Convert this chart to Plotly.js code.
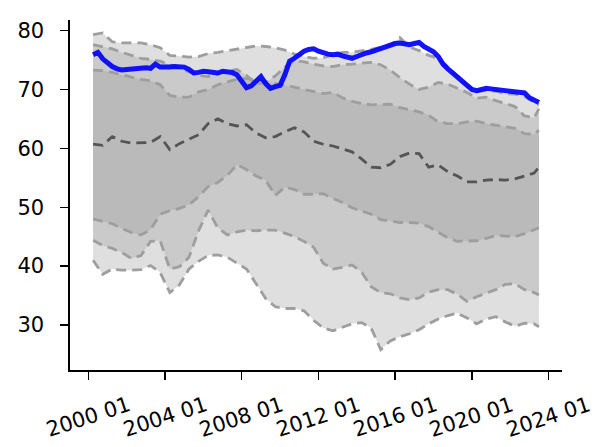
<!DOCTYPE html>
<html><head><meta charset="utf-8">
<script src="https://cdn.plot.ly/plotly-3.0.1.min.js"></script>
<style>html,body{margin:0;padding:0;background:#fff}#chart{width:596px;height:447px}</style>
</head><body><div id="chart"></div>
<script>
function monthSeries(y, m, step, n) {
  const out = [];
  for (let i = 0; i < n; i++) {
    out.push(y + '-' + String(m).padStart(2, '0') + '-01');
    m += step; while (m > 12) { m -= 12; y++; }
  }
  return out;
}
const bandDates = monthSeries(2000, 4, 6, 47).concat(['2023-07-01']);
const lineDates = monthSeries(2000, 4, 3, 94);

const p5  = [41.0,38.6,39.5,39.3,39.3,39.4,40.1,38.9,35.5,36.8,39.5,40.8,41.8,41.9,41.5,40.5,39.5,37.0,34.5,33.1,32.8,32.8,32.4,30.8,29.5,29.0,29.6,30.2,30.4,29.5,25.8,27.3,28.0,28.5,29.2,30.2,31.0,31.6,32.0,31.2,30.2,31.0,31.4,30.5,29.8,30.3,30.2,29.7];
const p10 = [44.4,43.5,43.0,42.3,41.3,41.8,44.2,44.3,39.5,39.9,41.5,46.0,49.5,46.5,45.3,45.8,46.1,46.0,46.1,46.1,45.6,45.0,44.2,43.2,40.5,39.5,39.8,40.2,39.0,36.5,35.5,35.3,34.6,34.3,34.6,35.6,36.0,36.0,35.2,34.0,34.8,35.4,36.0,36.9,37.0,36.0,35.5,35.1];
const p25 = [48.0,47.6,47.2,46.4,45.7,45.3,46.2,48.8,49.4,49.8,50.4,51.8,53.5,54.2,55.4,57.2,56.4,55.3,54.6,52.0,53.4,53.0,52.2,52.2,52.3,51.5,50.8,49.9,49.4,48.8,47.9,47.6,47.4,47.4,47.3,46.7,45.8,44.8,44.2,44.2,44.3,44.7,45.2,45.1,45.0,45.5,46.1,46.5];
const p50 = [60.7,60.5,62.0,61.2,60.9,60.9,61.0,62.0,59.8,60.8,61.5,62.3,64.2,65.0,64.2,63.8,64.0,62.6,61.8,62.0,62.8,63.5,62.8,61.2,60.7,60.4,59.9,59.4,58.2,56.8,56.7,57.3,58.6,59.2,59.1,56.8,57.2,56.0,55.3,54.3,54.3,54.6,54.7,54.6,54.8,55.3,55.8,56.8];
const p75 = [73.3,73.2,72.9,72.5,72.0,71.7,71.5,70.8,69.0,68.7,68.7,69.6,70.0,70.8,71.3,71.7,71.9,71.6,71.3,71.1,70.7,70.4,70.0,69.6,69.3,69.5,68.6,68.0,67.6,67.4,67.4,67.5,66.9,66.6,66.2,65.6,64.5,64.2,64.2,64.5,64.6,64.2,63.9,63.7,63.4,62.5,62.4,63.1];
const p90 = [77.6,77.3,76.9,76.3,75.8,75.3,75.1,74.8,74.2,73.6,73.0,72.4,72.2,72.7,73.1,73.4,72.4,70.9,71.2,72.3,73.8,74.9,74.7,74.3,74.0,73.9,74.2,74.3,74.5,74.6,74.2,73.3,72.0,70.9,70.0,70.4,71.2,70.9,70.2,69.5,68.5,68.7,68.1,67.6,67.1,65.5,65.2,66.7];
const p95 = [79.3,79.6,78.1,77.9,77.9,77.9,77.6,77.1,75.8,75.6,75.5,75.6,76.1,76.3,76.6,76.9,77.2,77.4,77.3,77.1,76.7,76.0,75.6,75.3,75.4,75.8,76.3,76.3,76.5,76.8,77.2,77.5,78.8,77.2,76.6,75.8,75.3,73.8,72.3,70.8,69.6,69.8,69.7,69.3,69.2,68.8,67.8,67.4];
const actual = [75.9,76.3,75.2,74.5, 73.9,73.5,73.3,73.4, 73.5,73.5,73.6,73.7, 73.6,74.3,73.8,73.7, 73.8,73.9,73.8,73.8, 73.4,72.8,72.9,73.1, 73.0,73.0,72.8,73.1, 73.0,72.9,72.5,71.5, 70.3,70.6,71.3,72.2, 71.0,70.2,70.5,70.7, 72.5,74.8,75.3,75.9, 76.5,76.8,76.9,76.5, 76.2,76.0,75.9,76.0, 75.7,75.5,75.3,75.6, 76.0,76.2,76.4,76.7, 76.9,77.2,77.6,77.8, 77.9,77.7,77.6,77.8, 78.0,77.3,76.8,76.4, 75.6,74.3,73.5,72.8, 72.2,71.5,70.8,70.0, 69.8,70.1,70.2,70.1, 70.0,69.8,69.6,69.7, 69.6,69.5,69.4,68.6, 68.3,67.8];

const tickVals = ['2000-01-01','2004-01-01','2008-01-01','2012-01-01','2016-01-01','2020-01-01','2024-01-01'];
const tickText = ['2000 01','2004 01','2008 01','2012 01','2016 01','2020 01','2024 01'];
const yTicks = [30, 40, 50, 60, 70, 80];

const bands = [[p5, p95, '#dfdfdf'], [p10, p90, '#cacaca'], [p25, p75, '#bababa']];
const traces = [];
bands.forEach(([lo, hi, col]) => {
  traces.push({x: bandDates, y: lo, mode: 'lines', line: {width: 0}, hoverinfo: 'skip', showlegend: false});
  traces.push({x: bandDates, y: hi, mode: 'lines', line: {width: 0}, fill: 'tonexty', fillcolor: col, hoverinfo: 'skip', showlegend: false});
});
[p5, p10, p25, p75, p90, p95].forEach(s => {
  traces.push({x: bandDates, y: s, mode: 'lines', line: {color: '#9e9e9e', width: 2.8, dash: '10px,6px'}, showlegend: false});
});
traces.push({x: bandDates, y: p50, mode: 'lines', line: {color: '#555555', width: 2.8, dash: '10px,6px'}, showlegend: false});
traces.push({x: lineDates, y: actual, mode: 'lines', line: {color: '#0000ff', width: 5}, opacity: 0.92, showlegend: false});

const annotations = tickVals.map((v, i) => ({
  x: v, xref: 'x', y: -0.135, yref: 'paper', text: tickText[i], showarrow: false,
  textangle: -18, xanchor: 'center', yanchor: 'middle',
  font: {family: 'DejaVu Sans', size: 21, color: '#000'}
}));

const layout = {
  width: 596, height: 447,
  margin: {l: 70, r: 34, t: 20, b: 77},
  paper_bgcolor: '#fff', plot_bgcolor: '#fff',
  showlegend: false,
  font: {family: 'DejaVu Sans', color: '#000'},
  xaxis: {type: 'date', range: ['1999-01-17', '2024-09-13'], showgrid: false, zeroline: false,
          showline: true, linecolor: '#000', linewidth: 1.6, ticks: 'outside', ticklen: 8,
          tickwidth: 1.4, tickcolor: '#000', tickvals: tickVals, showticklabels: false},
  yaxis: {range: [22.35, 81.8], showgrid: false, zeroline: false, showline: true,
          linecolor: '#000', linewidth: 1.6, ticks: 'outside', ticklen: 8, tickwidth: 1.4,
          tickcolor: '#000', tickvals: yTicks, ticklabelstandoff: 12,
          tickfont: {family: 'DejaVu Sans', size: 21, color: '#000'}},
  annotations: annotations
};
Plotly.newPlot('chart', traces, layout, {displayModeBar: false, staticPlot: true});
</script>
</body></html>
